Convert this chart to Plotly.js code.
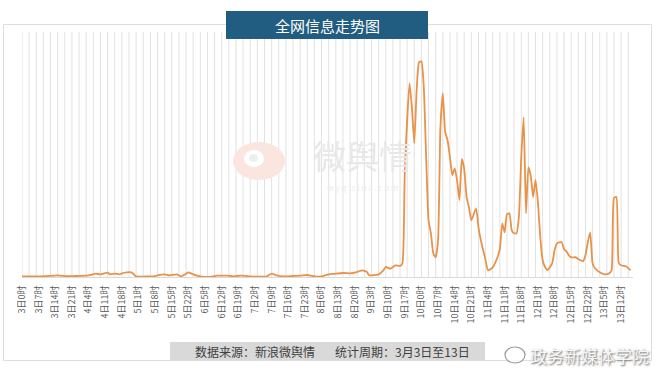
<!DOCTYPE html>
<html>
<head>
<meta charset="utf-8">
<script src="https://cdn.plot.ly/plotly-3.0.1.min.js"></script>
<style>html,body{margin:0;padding:0;background:#fff;}#chart{width:656px;height:372px;}</style>
</head>
<body>
<div id="chart"></div>
<script>
// Hours since 3日0时, and relative information volume
const hours = [0,5,10,15,19,23,28,31,33,36,37,39,41,42,44,46,47,48,52,55,57,60,62,65,67,69,70,72,75,80,82,86,89,92,96,100,103,105,107,110,114,117,120,122,124,126,129,132,135,138,140,142,143,145,146,150,152,153,155,157,159,160,161,163,164,165,166,167,168,169,170,171,172,173,174,175,176,177,178,179,180,181,182,183,184,185,186,187,188,189,191,192,193,195,196,198,200,201,202,203,204,205,206,207,208,209,210,211,212,213,214,215,216,217,218,219,220,221,223,224,225,227,228,229,230,231,233,234,235,236,237,238,239,240,241,243,245,247,248,249,250,251,252,254,256];
const volume = [50,50,80,170,80,100,170,330,270,430,270,330,270,370,470,470,270,60,50,60,170,270,170,270,70,330,470,270,70,30,130,130,70,130,70,30,70,330,170,70,100,130,200,100,30,70,270,330,400,370,430,600,670,530,170,270,670,1000,830,1170,1100,1370,10370,19370,16970,13370,18670,21470,21570,18970,11970,5670,4370,2370,1970,3670,15000,18370,14500,13670,11970,10170,10870,9670,7700,11800,10800,8000,6970,5670,6870,4970,3670,1670,670,970,1970,2800,5370,4470,6270,6370,4670,4370,4370,6000,11970,15970,6370,10970,10100,8000,9700,7500,4000,1670,1000,700,1370,2670,3370,3470,2770,2570,2170,1970,1970,1770,1670,1570,2170,3500,4470,1370,870,470,270,370,670,7900,8000,1400,1170,1070,670];
const tickHours = [0,7,14,21,28,35,42,49,56,63,70,77,84,91,98,105,112,119,126,133,140,147,154,161,168,175,182,189,196,203,210,217,224,231,238,245,252];
const tickLabels = ['3日0时','3日7时','3日14时','3日21时','4日4时','4日11时','4日18时','5日1时','5日8时','5日15时','5日22时','6日5时','6日12时','6日19时','7日2时','7日9时','7日16时','7日23时','8日6时','8日13时','8日20时','9日3时','9日10时','9日17时','10日0时','10日7时','10日14时','10日21时','11日4时','11日11时','11日18时','12日1时','12日8时','12日15时','12日22时','13日5时','13日12时'];
const chartTitle = '全网信息走势图';
const sourceText = '数据来源：新浪微舆情';
const periodText = '统计周期：3月3日至13日';

const W = 656, H = 372, L = 22, R = 23, T = 32, B = 95;
const pw = W - L - R, ph = H - T - B;
const px = x => (x - L) / pw;
const py = y => (H - B - y) / ph;
const FONT = '"Noto Sans CJK SC", "Noto Sans", sans-serif';
const X_MAX = 257, GRID_STEP = 3;

const trace = {
  x: hours, y: volume, type: 'scatter', mode: 'lines',
  line: {color: '#e8924a', width: 1.8, shape: 'spline', smoothing: 0.5},
  hoverinfo: 'skip'
};

// vertical gridlines every GRID_STEP hours
const gridShapes = [];
for (let h = 0; h <= X_MAX; h += GRID_STEP) {
  gridShapes.push({type: 'line', xref: 'x', yref: 'paper', x0: h, x1: h, y0: 0, y1: 1,
    line: {color: '#e2e2e2', width: 1}, layer: 'below'});
}

const layout = {
  width: W, height: H,
  margin: {l: L, r: R, t: T, b: B, pad: 0},
  paper_bgcolor: '#ffffff', plot_bgcolor: 'rgba(0,0,0,0)',
  showlegend: false,
  font: {family: FONT},
  xaxis: {
    range: [0, X_MAX], tickmode: 'array', tickvals: tickHours, ticktext: tickLabels,
    tickangle: -90, ticks: '', ticklabelstandoff: 4,
    tickfont: {size: 9, color: '#5a5a5a', family: FONT},
    showgrid: false, zeroline: false, showline: true, linecolor: '#d9d9d9', linewidth: 1,
    fixedrange: true
  },
  yaxis: {
    range: [0, 24500], showgrid: false, zeroline: false, showticklabels: false,
    ticks: '', showline: false, fixedrange: true
  },
  shapes: gridShapes.concat([
    {type: 'rect', xref: 'paper', yref: 'paper', x0: px(3.5), x1: px(651.5), y0: py(24.5), y1: py(360.5),
     line: {color: '#dedede', width: 1}, fillcolor: 'rgba(0,0,0,0)', layer: 'below'},
    {type: 'circle', xref: 'paper', yref: 'paper', x0: px(233), x1: px(285), y0: py(142), y1: py(180),
     line: {width: 0}, fillcolor: '#fbe5df', layer: 'below'},
    {type: 'circle', xref: 'paper', yref: 'paper', x0: px(244), x1: px(264), y0: py(150), y1: py(167),
     line: {width: 0}, fillcolor: '#ffffff', layer: 'below'},
    {type: 'circle', xref: 'paper', yref: 'paper', x0: px(249), x1: px(258), y0: py(154), y1: py(162),
     line: {width: 0}, fillcolor: '#eeeeee', layer: 'below'},
    {type: 'rect', xref: 'paper', yref: 'paper', x0: px(226), x1: px(428), y0: py(11), y1: py(39),
     line: {width: 0}, fillcolor: '#215d80', layer: 'above'},
    {type: 'rect', xref: 'paper', yref: 'paper', x0: px(170), x1: px(485), y0: py(342), y1: py(360),
     line: {width: 0}, fillcolor: '#d9d9d9', layer: 'above'},
    {type: 'circle', xref: 'paper', yref: 'paper', x0: px(505), x1: px(525), y0: py(347), y1: py(363),
     line: {color: '#9a9a9a', width: 1.2}, fillcolor: 'rgba(255,255,255,0.8)', layer: 'above'}
  ]),
  annotations: [
    {xref: 'paper', yref: 'paper', x: px(327), y: py(25), text: chartTitle, showarrow: false,
     font: {size: 15, color: '#ffffff', family: FONT}, xanchor: 'center', yanchor: 'middle'},
    {xref: 'paper', yref: 'paper', x: px(193), y: py(351), text: sourceText, showarrow: false,
     font: {size: 12, color: '#404040', family: FONT}, xanchor: 'left', yanchor: 'middle'},
    {xref: 'paper', yref: 'paper', x: px(333), y: py(351), text: periodText, showarrow: false,
     font: {size: 12, color: '#404040', family: FONT}, xanchor: 'left', yanchor: 'middle'},
    {xref: 'paper', yref: 'paper', x: px(362), y: py(155), text: '微舆情', showarrow: false,
     font: {size: 33, color: '#e8e8e8', family: FONT}, xanchor: 'center', yanchor: 'middle'},
    {xref: 'paper', yref: 'paper', x: px(362), y: py(187), text: 'w y q . s i n a . c o m', showarrow: false,
     font: {size: 8, color: '#ececec', family: FONT}, xanchor: 'center', yanchor: 'middle'},
    {xref: 'paper', yref: 'paper', x: px(589), y: py(355), text: '政务新媒体学院', showarrow: false,
     font: {size: 17, color: '#f6f6f6', family: FONT, shadow: '1px 1px 2px #666666'},
     xanchor: 'center', yanchor: 'middle'}
  ]
};

Plotly.newPlot('chart', [trace], layout, {displayModeBar: false, staticPlot: true});
</script>
</body>
</html>
